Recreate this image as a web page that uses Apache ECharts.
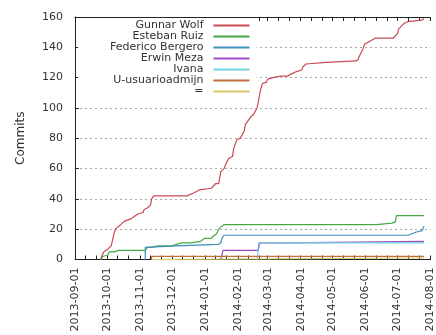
<!DOCTYPE html>
<html>
<head>
<meta charset="utf-8">
<script src="https://cdn.jsdelivr.net/npm/echarts@6/dist/echarts.min.js"></script>
<style>
html,body{margin:0;padding:0;background:#fff;}
#chart{width:436px;height:335px;}
</style>
</head>
<body>
<div id="chart"></div>
<script>
// ---- data (cumulative commits per author) ----
const monthTicks = ['2013-09-01','2013-10-01','2013-11-01','2013-12-01','2014-01-01','2014-02-01','2014-03-01','2014-04-01','2014-05-01','2014-06-01','2014-07-01','2014-08-01'];
const yTicks = [0, 20, 40, 60, 80, 100, 120, 140, 160];
const authors = ['Gunnar Wolf','Esteban Ruiz','Federico Bergero','Erwin Meza','Ivana','U-usuarioadmijn','='];

const gunnarWolf = [
['2013-09-25',0],['2013-09-28',5],['2013-10-02',7],['2013-10-05',9],['2013-10-06',12],['2013-10-08',18],['2013-10-09',20],['2013-10-12',22],['2013-10-14',23],['2013-10-17',25],['2013-10-20',26],['2013-10-24',27],['2013-10-26',28],['2013-10-30',30],['2013-11-04',31],['2013-11-05',33],['2013-11-08',34],['2013-11-09',35],['2013-11-11',36],['2013-11-12',40],['2013-11-14',42],['2013-12-15',42],['2013-12-22',44],['2013-12-27',46],['2014-01-07',47],['2014-01-11',50],['2014-01-14',50],['2014-01-16',58],['2014-01-19',60],['2014-01-22',65],['2014-01-24',67],['2014-01-27',68],['2014-01-28',73],['2014-01-31',79],['2014-02-03',80],['2014-02-05',82],['2014-02-07',85],['2014-02-08',89],['2014-02-10',91],['2014-02-13',94],['2014-02-16',96],['2014-02-19',100],['2014-02-20',103],['2014-02-22',111],['2014-02-24',116],['2014-02-28',117],['2014-03-01',119],['2014-03-06',120],['2014-03-13',121],['2014-03-20',121],['2014-03-22',122],['2014-03-23',123],['2014-03-28',124],['2014-04-02',125],['2014-04-03',127],['2014-04-06',129],['2014-04-25',130],['2014-05-23',131],['2014-05-25',132],['2014-05-26',134],['2014-05-29',138],['2014-05-31',142],['2014-06-05',144],['2014-06-10',146],['2014-06-27',146],['2014-07-01',149],['2014-07-02',152],['2014-07-06',155],['2014-07-08',156],['2014-07-11',157],['2014-07-24',158],['2014-07-26',159]
];
const estebanRuiz = [
['2013-09-25',0],['2013-09-27',2],['2013-10-02',3],['2013-10-03',5],['2013-10-08',5],['2013-10-12',6],['2013-11-06',6],['2013-11-08',8],['2013-11-12',8],['2013-11-18',9],['2013-12-01',9],['2013-12-10',11],['2013-12-19',11],['2013-12-28',12],['2014-01-01',14],['2014-01-07',14],['2014-01-10',16],['2014-01-12',17],['2014-01-14',20],['2014-01-17',22],['2014-01-19',23],['2014-06-11',23],['2014-06-26',24],['2014-06-29',25],['2014-06-30',29],['2014-07-26',29]
];
const federicoBergero = [
['2013-11-06',0],['2013-11-06',8],['2013-12-05',9],['2014-01-14',10],['2014-01-16',11],['2014-01-17',14],['2014-01-19',16],['2014-07-11',16],['2014-07-18',18],['2014-07-24',19],['2014-07-26',22]
];
const erwinMeza = [
['2014-01-16',0],['2014-01-18',6],['2014-02-20',6],['2014-02-21',11],['2014-03-19',11],['2014-03-20',12],['2014-07-26',12]
];
const ivana = [
['2014-02-19',0],['2014-02-20',5],['2014-02-21',8],['2014-02-22',11],['2014-07-26',11]
];
const usuarioAdmijn = [
['2013-11-12',0],['2013-11-12',2],['2014-07-26',2]
];
const equalsSign = [
['2013-11-12',0],['2013-11-12',1],['2014-07-26',1]
];

const seriesData = [gunnarWolf, estebanRuiz, federicoBergero, erwinMeza, ivana, usuarioAdmijn, equalsSign];
const colors = ['#c84a55','#46a846','#3f8fbf','#a048c8','#70d4e0','#c0703c','#d8c868'];

// ---- helpers ----
function toTs(s){ const p = s.split('-').map(Number); return Date.UTC(p[0], p[1]-1, p[2]); }
function pad(n){ return (n<10?'0':'') + n; }
function fmt(v){ const d = new Date(v); return d.getUTCFullYear()+'-'+pad(d.getUTCMonth()+1)+'-'+pad(d.getUTCDate()); }

const monthTs = monthTicks.map(toTs);
const tickTs = [];
monthTicks.forEach(function(m, i){
  const p = m.split('-').map(Number);
  tickTs.push(monthTs[i]);
  if (i < monthTicks.length - 1) {
    tickTs.push(Date.UTC(p[0], p[1]-1, 11));
    tickTs.push(Date.UTC(p[0], p[1]-1, 21));
  }
});

const FONT = 'DejaVu Sans';
const TXT = '#333';

const chart = echarts.init(document.getElementById('chart'), null, {renderer:'canvas'});
chart.setOption({
  animation: false,
  backgroundColor: '#fff',
  textStyle: {fontFamily: FONT},
  grid: {left: 75, right: 0, top: 17, bottom: 75.5, containLabel: false},
  legend: {
    data: authors,
    orient: 'vertical',
    left: 78, top: 18,
    align: 'right',
    itemWidth: 36, itemHeight: 13.4, itemGap: 0,
    padding: [2, 6, 4, 32],
    backgroundColor: '#fff',
    itemStyle: {opacity: 0, borderWidth: 0},
    formatter: function(name){ return '{a|' + name + '}'; },
    textStyle: {
      fontFamily: FONT, fontSize: 11, color: TXT,
      rich: {a: {padding: [0, 5, 0, 0], fontFamily: FONT, fontSize: 11, color: TXT}}
    }
  },
  xAxis: [{
    type: 'value',
    min: monthTs[0], max: monthTs[monthTs.length-1],
    position: 'bottom',
    axisLine: {show: true, onZero: false, lineStyle: {color: '#222', width: 1}},
    axisTick: {show: true, inside: true, length: 4, customValues: tickTs, lineStyle: {color: '#222'}},
    axisLabel: {
      customValues: monthTs, rotate: 90, margin: 8,
      fontFamily: FONT, fontSize: 11, color: TXT,
      formatter: function(v){ return fmt(v); }
    },
    splitLine: {show: false}
  }, {
    type: 'value',
    min: monthTs[0], max: monthTs[monthTs.length-1],
    position: 'top',
    axisLine: {show: true, onZero: false, lineStyle: {color: '#222', width: 1}},
    axisTick: {show: true, inside: true, length: 4, customValues: tickTs, lineStyle: {color: '#222'}},
    axisLabel: {show: false},
    splitLine: {show: false}
  }],
  yAxis: {
    type: 'value',
    min: yTicks[0], max: yTicks[yTicks.length-1], interval: 20,
    name: 'Commits', nameLocation: 'middle', nameGap: 48, nameRotate: 90,
    nameTextStyle: {fontFamily: FONT, fontSize: 12, color: TXT},
    axisLine: {show: true, lineStyle: {color: '#222', width: 1}},
    axisTick: {show: true, inside: true, length: 4, lineStyle: {color: '#222'}},
    axisLabel: {margin: 12, fontFamily: FONT, fontSize: 11, color: TXT},
    splitLine: {show: true, lineStyle: {color: '#a8a8a8', width: 1, type: [2, 3]}}
  },
  series: authors.map(function(name, i){
    return {
      name: name,
      type: 'line',
      symbol: 'none',
      color: colors[i],
      lineStyle: {color: colors[i], width: 1.2},
      data: seriesData[i].map(function(p){ return [toTs(p[0]), p[1]]; })
    };
  })
});
</script>
</body>
</html>
